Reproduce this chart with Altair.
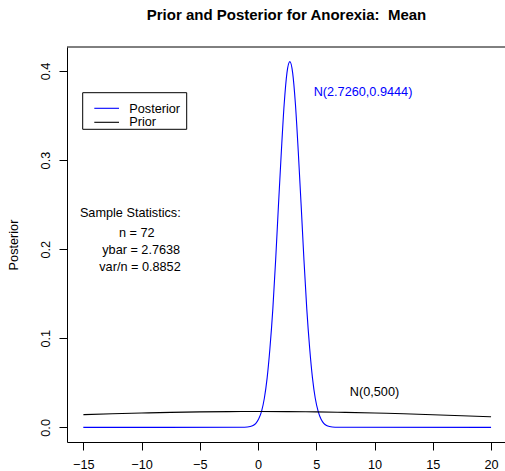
import altair as alt
import pandas as pd

# ---------------- data ----------------
post_x = [-15, -1.16, -0.67, -0.43, -0.19, 0.05, 0.30, 0.54, 0.78, 1.02, 1.27,
          1.51, 1.75, 2.00, 2.24, 2.48, 2.73, 2.97, 3.21, 3.45, 3.70, 3.94,
          4.18, 4.43, 4.67, 4.91, 5.16, 5.40, 5.64, 5.88, 6.13, 6.61, 20]
post_y = [0.0, 0.0001, 0.0009, 0.0021, 0.0046, 0.0094, 0.0180, 0.0327, 0.0556,
          0.0888, 0.1333, 0.1879, 0.2490, 0.3098, 0.3623, 0.3979, 0.4105,
          0.3979, 0.3623, 0.3098, 0.2490, 0.1879, 0.1333, 0.0888, 0.0556,
          0.0327, 0.0180, 0.0094, 0.0046, 0.0021, 0.0009, 0.0001, 0.0]

prior_x = [-15, -12.5, -10, -7.5, -5, -2.5, 0, 2.5, 5, 7.5, 10, 12.5, 15, 17.5, 20]
prior_y = [0.01425, 0.01526, 0.01614, 0.01686, 0.01740, 0.01773, 0.01784,
           0.01773, 0.01740, 0.01686, 0.01614, 0.01526, 0.01425, 0.01313, 0.01196]

series_names = ["Posterior", "Prior"]
series_colors = ["#0000FF", "#000000"]

x_ticks = [-15, -10, -5, 0, 5, 10, 15, 20]
y_ticks = [0.0, 0.1, 0.2, 0.3, 0.4]

title_text = "Prior and Posterior for Anorexia:  Mean"
y_title = "Posterior"
stats_lines = ["Sample Statistics:", "n = 72", "ybar = 2.7638", "var/n = 0.8852"]
post_label = "N(2.7260,0.9444)"
prior_label = "N(0,500)"

# ---------------- chart ----------------
FONT = "Liberation Sans"
FS = 12.7
W, H = 438, 395

curves = pd.concat([
    pd.DataFrame({"x": post_x, "y": post_y, "series": series_names[0]}),
    pd.DataFrame({"x": prior_x, "y": prior_y, "series": series_names[1]}),
])

xscale = alt.Scale(domain=[-16.4, 21.197], nice=False, zero=False)
yscale = alt.Scale(domain=[-0.0164, 0.4269], nice=False, zero=False)

lines = alt.Chart(curves).mark_line(strokeWidth=1.1, interpolate="monotone").encode(
    x=alt.X("x:Q", scale=xscale,
            axis=alt.Axis(values=x_ticks, title=None, grid=False, tickSize=8,
                          labelPadding=8, labelFlush=False)),
    y=alt.Y("y:Q", scale=yscale,
            axis=alt.Axis(values=y_ticks, format=".1f", title=y_title, grid=False,
                          tickSize=8, labelPadding=10, labelAngle=270,
                          labelAlign="center", labelBaseline="alphabetic",
                          labelFlush=False,
                          titleAngle=270, titleX=-50, titleY=H / 2,
                          titleAlign="center", titleBaseline="alphabetic")),
    color=alt.Color("series:N",
                    scale=alt.Scale(domain=series_names, range=series_colors),
                    legend=None),
)


def txt(s, x, y, color="black", align="center", size=FS, baseline="middle",
        weight="normal"):
    return alt.Chart(pd.DataFrame({"t": [s]})).mark_text(
        align=align, baseline=baseline, font=FONT, fontSize=size, color=color,
        fontWeight=weight
    ).encode(text="t:N", x=alt.value(x), y=alt.value(y))


dummy = pd.DataFrame({"d": [0]})

top_border = alt.Chart(dummy).mark_rule(color="black", strokeWidth=1).encode(
    x=alt.value(0), x2=alt.value(W), y=alt.value(0))

legend_box = alt.Chart(dummy).mark_rect(
    fillOpacity=0, stroke="black", strokeWidth=1).encode(
    x=alt.value(15.7), x2=alt.value(119.7), y=alt.value(45.7), y2=alt.value(82.3))

leg_post = alt.Chart(dummy).mark_rule(color=series_colors[0], strokeWidth=1.1).encode(
    x=alt.value(27.3), x2=alt.value(52), y=alt.value(61.3))
leg_prior = alt.Chart(dummy).mark_rule(color=series_colors[1], strokeWidth=1.1).encode(
    x=alt.value(27.3), x2=alt.value(52), y=alt.value(75.3))

# SVG collapses runs of spaces; keep the double space with a no-break space
title_shown = title_text.replace("  ", "\u00a0 ")

layers = [
    lines,
    top_border,
    legend_box, leg_post, leg_prior,
    txt(title_shown, 219.5, -27, size=15, baseline="alphabetic", weight="bold"),
    txt(series_names[0], 62.3, 61.5, align="left"),
    txt(series_names[1], 62.3, 75.0, align="left"),
    txt(stats_lines[0], 63.3, 165.5),
    txt(stats_lines[1], 69.7, 186),
    txt(stats_lines[2], 74.2, 202.5),
    txt(stats_lines[3], 73.0, 219.5),
    txt(post_label, 296, 44.7, color=series_colors[0]),
    txt(prior_label, 307.5, 344.5),
]

chart = alt.layer(*layers).properties(
    width=W, height=H,
    autosize=alt.AutoSizeParams(type="none"),
    padding={"left": 67, "top": 47, "right": 0, "bottom": 29},
).configure_view(stroke=None).configure_axis(
    labelFont=FONT, labelFontSize=FS, labelColor="black",
    titleFont=FONT, titleFontSize=FS, titleFontWeight="normal", titleColor="black",
    tickColor="black", domainColor="black", tickWidth=1, domainWidth=1,
)

chart.save("out.html", embed_options={"renderer": "svg", "actions": False})
